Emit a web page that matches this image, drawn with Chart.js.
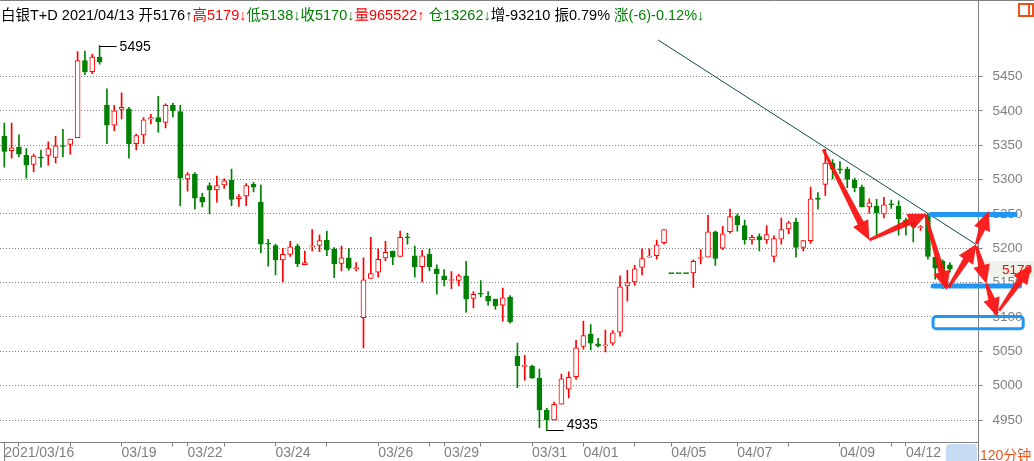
<!DOCTYPE html>
<html>
<head>
<meta charset="utf-8">
<script src="https://cdn.jsdelivr.net/npm/chart.js@4/dist/chart.umd.min.js"></script>
<style>
  html, body { margin: 0; padding: 0; background: #fff; }
  #wrap { position: relative; width: 1034px; height: 461px; overflow: hidden; }
  #c { position: absolute; left: 0; top: 0; }
  #hdr { position: absolute; left: 1px; top: 3px; white-space: nowrap; line-height: 17px;
         font: 14.5px "Liberation Sans", "Noto Sans CJK SC", sans-serif; color: #000; }
  .r { color: #f00; } .g { color: #008000; }
  #icon { position: absolute; left: 1018px; top: 3px; width: 12px; height: 10px; border: 2px solid #e8541c; }
  #icon i { position: absolute; left: 8px; top: 0; width: 0; height: 10px; border-left: 2px solid #e8541c; }
  #pbox { position: absolute; left: 946px; top: 444px; width: 31px; height: 17px; background: #c6dcf4; border-radius: 4px 4px 0 0; }
  #period { position: absolute; left: 980px; top: 444px; font: 14px "Liberation Sans", "Noto Sans CJK SC", sans-serif; color: #e8541c; }
</style>
</head>
<body>
<div id="wrap">
  <canvas id="c" width="1034" height="461"></canvas>
  <div id="hdr">白银T+D 2021/04/13 开5176↑<span class="r">高5179↓</span><span class="g">低5138↓</span><span class="g">收5170↓</span><span class="r">量965522↑</span> <span class="g">仓13262↓</span>增-93210 振0.79% <span class="g">涨(-6)-0.12%↓</span></div>
  <div id="icon"><i></i></div>
  <div id="pbox"></div>
  <div id="period">120分钟</div>
</div>
<script>
// 120-minute bars, silver T+D, 2021/03/16 .. 2021/04/13
const OPEN = [
  5363,5342,5347,5335,5322,5332,5335,5332,5349,5351,
  5361,5473,5457,5478,5408,5379,5402,5403,5352,5365,
  5388,5390,5383,5408,5399,5301,5308,5274,5291,5285,
  5292,5299,5272,5276,5293,5267,5207,5204,5183,5191,
  5203,5176,5202,5204,5212,5199,5178,5186,5170,5099,
  5156,5165,5186,5196,5188,5216,5189,5173,5191,5170,
  5160,5153,5153,5160,5127,5134,5130,5126,5117,5129,
  5043,5028,5028,5011,4964,4950,4973,4995,5013,5057,
  5075,5061,5058,5062,5078,5145,5151,5172,5187,5189,
  5208,5163,5163,5163,5164,5185,5187,5224,5200,5224,
  5247,5233,5212,5217,5212,5188,5213,5228,5238,5201,
  5211,5272,5293,5324,5315,5315,5299,5289,5260,5261,
  5250,5264,5261,5241,5238,5230,5248,5187,5181,5176
];
const HIGH = [
  5382,5382,5365,5345,5337,5343,5355,5363,5373,5359,
  5486,5487,5482,5495,5432,5408,5426,5405,5366,5390,
  5395,5421,5410,5411,5408,5310,5310,5280,5295,5305,
  5301,5315,5278,5294,5296,5292,5213,5206,5200,5210,
  5206,5196,5227,5219,5225,5201,5203,5200,5179,5186,
  5216,5199,5210,5196,5225,5222,5203,5197,5199,5176,
  5169,5166,5162,5181,5137,5153,5137,5126,5142,5131,
  5062,5044,5030,5024,4967,4976,5017,5020,5066,5094,
  5089,5069,5081,5080,5160,5168,5175,5199,5199,5212,
  5227,5163,5163,5163,5183,5198,5248,5225,5232,5257,
  5250,5241,5219,5221,5233,5218,5244,5239,5244,5211,
  5289,5281,5344,5329,5326,5318,5302,5292,5272,5271,
  5274,5270,5269,5244,5240,5233,5250,5187,5183,5179
];
const LOW = [
  5318,5331,5333,5302,5311,5318,5321,5324,5333,5337,
  5361,5453,5454,5468,5352,5371,5388,5331,5343,5352,
  5381,5369,5375,5391,5262,5283,5257,5260,5250,5267,
  5287,5262,5261,5262,5282,5193,5174,5161,5151,5188,
  5173,5176,5196,5195,5189,5157,5167,5168,5167,5055,
  5156,5158,5182,5176,5188,5206,5158,5151,5167,5133,
  5145,5141,5145,5107,5113,5129,5117,5111,5094,5091,
  4997,5008,5011,4939,4935,4950,4973,4982,5009,5053,
  5052,5056,5049,5059,5072,5123,5146,5161,5187,5184,
  5206,5163,5163,5163,5143,5177,5187,5175,5198,5222,
  5225,5206,5206,5196,5207,5180,5206,5221,5187,5196,
  5207,5257,5277,5301,5309,5288,5282,5260,5251,5218,
  5244,5258,5219,5219,5209,5226,5184,5155,5141,5165
];
const CLOSE = [
  5341,5346,5337,5321,5334,5331,5345,5349,5348,5359,
  5473,5457,5478,5471,5379,5400,5405,5352,5364,5387,
  5390,5384,5408,5400,5302,5307,5273,5267,5285,5291,
  5298,5271,5275,5291,5289,5206,5206,5183,5191,5202,
  5177,5179,5203,5211,5198,5177,5186,5171,5172,5154,
  5163,5184,5194,5187,5216,5215,5173,5189,5173,5163,
  5154,5154,5160,5126,5133,5133,5123,5116,5128,5093,
  5029,5029,5011,4965,4950,4973,5010,5012,5055,5073,
  5062,5058,5059,5077,5144,5150,5170,5185,5188,5205,
  5227,5163,5163,5163,5181,5186,5224,5185,5221,5246,
  5234,5212,5216,5212,5220,5214,5227,5237,5201,5211,
  5272,5271,5324,5315,5314,5300,5288,5260,5266,5251,
  5263,5263,5243,5234,5231,5231,5188,5171,5167,5170
];

// bar index of each x tick, and the date shown at some of them
const TICK_IDX   = [0,2,9,16,23,25,30,37,44,51,58,60,65,72,79,86,91,100,107,114,121,123];
const LABEL_IDX  = [0,16,25,37,51,60,72,79,91,100,114,123];
const LABEL_TEXT = ["2021/03/16","03/19","03/22","03/24","03/26","03/29","03/31","04/01","04/05","04/07","04/09","04/12"];
const Y_TICKS    = [4950,5000,5050,5100,5150,5200,5250,5300,5350,5400,5450];

// hand-drawn annotations, in (bar index, price)
const TREND      = [[89.2, 5503], [132.5, 5206]];
const BLUE_LINES = [[126.4, 137.9, 5249], [126.7, 138.5, 5145]];
const BLUE_BOX   = [126.7, 139.0, 5100.5, 5083];
const ARROWS = [
  [111.7, 5344, 118.0, 5212],
  [118.0, 5212, 125.9, 5250],
  [125.7, 5247, 128.6, 5139],
  [128.8, 5143, 132.6, 5206],
  [132.6, 5206, 134.3, 5254],
  [132.6, 5203, 134.0, 5148],
  [134.0, 5148, 135.5, 5100],
  [135.7, 5109, 140.1, 5176],
];

const UP = "#ff0000", DOWN = "#008000", AXIS = "#808080";
const FONT = '"Liberation Sans", Arial, sans-serif';
const isUp = i => CLOSE[i] > OPEN[i];

function arrow(ctx, x0, y0, x1, y1) {
  const dx = x1 - x0, dy = y1 - y0, len = Math.hypot(dx, dy);
  const ux = dx / len, uy = dy / len, nx = -uy, ny = ux;
  const hl = Math.min(19, len * 0.6), hw = 8.5, sw = 3.3;
  const bx = x1 - ux * hl, by = y1 - uy * hl;
  ctx.beginPath();
  ctx.moveTo(x0 + nx * 1.4, y0 + ny * 1.4);
  ctx.lineTo(bx + nx * sw, by + ny * sw);
  ctx.lineTo(bx + nx * hw, by + ny * hw);
  ctx.lineTo(x1, y1);
  ctx.lineTo(bx - nx * hw, by - ny * hw);
  ctx.lineTo(bx - nx * sw, by - ny * sw);
  ctx.lineTo(x0 - nx * 1.4, y0 - ny * 1.4);
  ctx.closePath();
  ctx.fill();
}

const overlay = {
  id: "overlay",
  afterDraw(chart) {
    const { ctx, chartArea: a, scales: { x, y } } = chart;
    ctx.save();
    // frame: top line, right axis line through header and date row, long first tick
    ctx.strokeStyle = AXIS; ctx.lineWidth = 1;
    const rx = Math.round(a.right - 0.5) + 0.5;
    const fx = Math.round(x.getPixelForValue(0) - 0.5) + 0.5;
    ctx.beginPath();
    ctx.moveTo(0, 0.5); ctx.lineTo(chart.width, 0.5);
    ctx.moveTo(rx, 0); ctx.lineTo(rx, chart.height);
    ctx.moveTo(fx, a.bottom); ctx.lineTo(fx, chart.height);
    ctx.stroke();

    // highest / lowest markers
    const hi = Math.max(...HIGH), hiI = HIGH.indexOf(hi);
    const lo = Math.min(...LOW), loI = LOW.indexOf(lo);
    ctx.strokeStyle = "#000"; ctx.fillStyle = "#000";
    ctx.font = "14px " + FONT;
    const hx = x.getPixelForValue(hiI), hy = Math.round(y.getPixelForValue(hi)) + 0.5;
    ctx.beginPath(); ctx.moveTo(hx, hy); ctx.lineTo(hx + 17, hy); ctx.stroke();
    ctx.textBaseline = "middle"; ctx.textAlign = "left";
    ctx.fillText(String(hi), hx + 20, hy + 1);
    const lx = x.getPixelForValue(loI), ly = Math.round(y.getPixelForValue(lo)) + 0.5;
    ctx.beginPath(); ctx.moveTo(lx, ly); ctx.lineTo(lx + 17, ly); ctx.stroke();
    ctx.textBaseline = "alphabetic";
    ctx.fillText(String(lo), lx + 20, ly - 2);

    // last price tag on the axis
    const last = CLOSE[CLOSE.length - 1], py = y.getPixelForValue(last);
    ctx.fillStyle = "#edf3ea";
    ctx.fillRect(rx + 0.5, py - 8, chart.width - rx, 16);
    ctx.fillStyle = UP; ctx.textAlign = "right"; ctx.textBaseline = "middle";
    ctx.font = "13.5px " + FONT;
    ctx.fillText(String(last), chart.width - 2, py + 1);

    // blue support / resistance marks
    ctx.strokeStyle = "#2196f3"; ctx.lineCap = "round"; ctx.lineWidth = 5;
    BLUE_LINES.forEach(([i0, i1, v]) => {
      ctx.beginPath();
      ctx.moveTo(x.getPixelForValue(i0), y.getPixelForValue(v));
      ctx.lineTo(x.getPixelForValue(i1), y.getPixelForValue(v));
      ctx.stroke();
    });
    ctx.lineWidth = 3;
    const [b0, b1, bt, bb] = BLUE_BOX;
    const X0 = x.getPixelForValue(b0), Y0 = y.getPixelForValue(bt);
    ctx.beginPath();
    ctx.roundRect(X0, Y0, x.getPixelForValue(b1) - X0, y.getPixelForValue(bb) - Y0, 3);
    ctx.stroke();

    // red arrows
    ctx.fillStyle = "rgba(250,20,20,0.95)";
    ARROWS.forEach(([i0, v0, i1, v1]) =>
      arrow(ctx, x.getPixelForValue(i0), y.getPixelForValue(v0), x.getPixelForValue(i1), y.getPixelForValue(v1)));
    ctx.restore();
  }
};

const idx = OPEN.map((_, i) => i);

new Chart(document.getElementById("c"), {
  data: {
    datasets: [
      {
        type: "bar", label: "body", order: 0,
        data: idx.map(i => ({ x: i, y: [Math.min(OPEN[i], CLOSE[i]), Math.max(OPEN[i], CLOSE[i])] })),
        backgroundColor: idx.map(i => isUp(i) ? "#ffffff" : DOWN),
        borderColor: idx.map(i => isUp(i) ? UP : DOWN),
        borderWidth: 1, borderSkipped: false, barThickness: 5, minBarLength: 1, grouped: false,
      },
      {
        type: "bar", label: "wick", order: 1,
        data: idx.map(i => ({ x: i, y: [LOW[i], HIGH[i]] })),
        backgroundColor: idx.map(i => isUp(i) ? UP : DOWN),
        borderWidth: 0, barThickness: 1, grouped: false,
      },
      {
        type: "line", label: "trend", order: -1,
        data: TREND.map(([i, v]) => ({ x: i, y: v })),
        borderColor: "#0d4b4b", borderWidth: 1, pointRadius: 0, tension: 0,
      },
    ],
  },
  options: {
    responsive: false, animation: false,
    layout: { padding: { top: 2, left: 0, right: 0, bottom: 0 } },
    plugins: { legend: { display: false }, tooltip: { enabled: false } },
    scales: {
      x: {
        type: "linear", min: -0.587, max: 132.9, offset: false,
        afterBuildTicks: ax => { ax.ticks = TICK_IDX.map(v => ({ value: v })); },
        afterFit: ax => { ax.height = 18.5; ax.paddingLeft = 0; ax.paddingRight = 0; },
        ticks: {
          autoSkip: false, maxRotation: 0, align: "start", padding: -2,
          color: AXIS, font: { size: 14, family: FONT },
          callback: v => { const j = LABEL_IDX.indexOf(v); return j < 0 ? "" : LABEL_TEXT[j]; },
        },
        grid: { drawOnChartArea: false, drawTicks: true, tickLength: 4, tickColor: AXIS, offset: false },
        border: { display: true, color: AXIS },
      },
      y: {
        type: "linear", position: "right", min: 4917.3, max: 5558.3, beginAtZero: false,
        afterBuildTicks: ax => { ax.ticks = Y_TICKS.map(v => ({ value: v })); },
        afterFit: ax => { ax.width = 55.5; ax.paddingTop = 0; ax.paddingBottom = 0; },
        ticks: { color: AXIS, padding: 10, font: { size: 13.5, family: FONT }, callback: v => String(v) },
        grid: { color: AXIS, tickLength: 4, tickColor: AXIS },
        border: { display: true, color: AXIS, dash: [1, 2] },
      },
    },
  },
  plugins: [overlay],
});
</script>
</body>
</html>
